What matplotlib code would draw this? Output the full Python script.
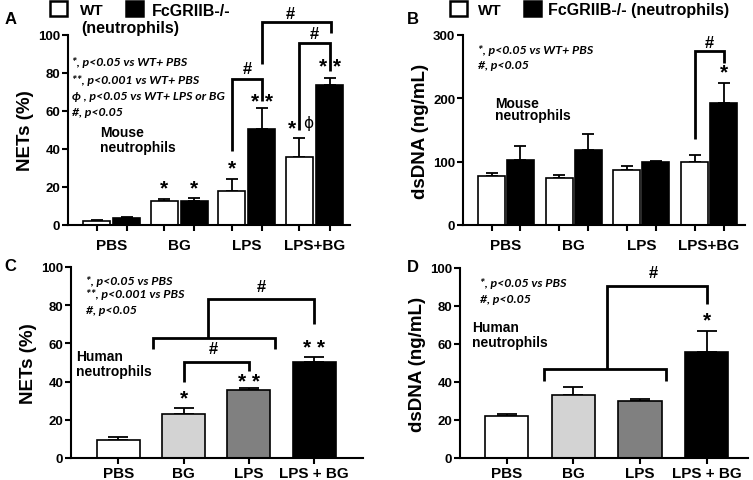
import matplotlib
matplotlib.use("Agg")
import matplotlib.pyplot as plt
from matplotlib.patches import Rectangle
import numpy as np

plt.rcParams['font.family'] = ['Liberation Sans', 'DejaVu Sans']
plt.rcParams['font.weight'] = 'bold'
plt.rcParams['axes.labelweight'] = 'bold'

#_______________________________________________________________________________
groups = ["PBS", "BG", "LPS", "LPS+BG"]
groups_h = ["PBS", "BG", "LPS", "LPS + BG"]

# A: mouse NETs (%)
a_wt = [2.1, 12.8, 18.0, 35.9]
a_wt_err = [0.6, 0.8, 6.0, 10.1]
a_ko = [3.8, 12.8, 50.4, 73.6]
a_ko_err = [0.5, 1.4, 11.4, 4.0]

# B: mouse dsDNA (ng/mL)
b_wt = [77.8, 74.0, 86.7, 100.0]
b_wt_err = [3.7, 5.0, 5.8, 10.0]
b_ko = [102.5, 118.0, 98.8, 192.0]
b_ko_err = [22.0, 25.5, 2.2, 33.0]

# C: human NETs (%)
c_val = [9.4, 23.0, 35.7, 50.5]
c_err = [1.8, 3.0, 0.8, 2.6]

# D: human dsDNA (ng/mL)
d_val = [22.2, 33.4, 30.1, 55.6]
d_err = [1.1, 3.9, 0.9, 11.4]

human_colors = ["white", "#d3d3d3", "#808080", "black"]
#_______________________________________________________________________________

W, H = 753, 481
fig = plt.figure(figsize=(W / 100, H / 100), dpi=100)


def axes_px(left, right, top, bottom):
    return fig.add_axes([left / W, 1 - bottom / H, (right - left) / W, (bottom - top) / H])


def px(x, y):
    return x / W, 1 - y / H


def style(ax):
    for s in ["top", "right"]:
        ax.spines[s].set_visible(False)
    for s in ["left", "bottom"]:
        ax.spines[s].set_linewidth(1.5)
    ax.tick_params(axis="y", labelsize=9.5, width=1.5, length=4, pad=1.5)
    ax.tick_params(axis="x", which="major", width=1.5, length=4)
    for t in ax.get_yticklabels():
        t.set_fontweight("bold")


def bracket(ax, x1, y1, x2, y2, ytop):
    ax.plot([x1, x1, x2, x2], [y1, ytop, ytop, y2], color="black", lw=2.0,
            clip_on=False, solid_capstyle="butt", solid_joinstyle="miter")


def star(ax, x, y, s, size=15):
    ax.text(x, y, s, ha="center", va="center", fontsize=size, clip_on=False)


def notes(ax, x, ys, lines):
    for y, t in zip(ys, lines):
        ax.text(x, y, t, ha="left", va="center", fontsize=8.9, style="italic",
                weight="bold", family=["Lato", "DejaVu Sans"])


def mouse_panel(ax, wt, wt_err, ko, ko_err, off, width):
    x = np.arange(len(groups))
    ax.bar(x - off, wt, width, color="white", edgecolor="black", lw=1.2, zorder=2)
    ax.bar(x + off, ko, width, color="black", edgecolor="black", lw=1.2, zorder=2)
    ax.errorbar(x - off, wt, yerr=[np.zeros(4), wt_err], fmt="none", ecolor="black",
                elinewidth=1.3, capsize=4, capthick=1.3, zorder=1)
    ax.errorbar(x + off, ko, yerr=[np.zeros(4), ko_err], fmt="none", ecolor="black",
                elinewidth=1.3, capsize=4, capthick=1.3, zorder=1)
    ax.set_xticks(np.concatenate([x - off, x + off]))
    ax.set_xticklabels([])
    ax.set_xticks(x, minor=True)
    ax.set_xticklabels(groups, minor=True, fontsize=11, fontweight="bold")
    ax.tick_params(axis="x", which="minor", length=0, pad=9)


def human_panel(ax, val, err, width):
    x = np.arange(len(groups_h))
    ax.bar(x, val, width, color=human_colors, edgecolor="black", lw=1.2, zorder=2)
    ax.errorbar(x, val, yerr=[np.zeros(4), err], fmt="none", ecolor="black",
                elinewidth=1.3, capsize=7, capthick=1.3, zorder=1)
    ax.set_xticks(x)
    ax.set_xticklabels(groups_h, fontsize=11, fontweight="bold")
    ax.tick_params(axis="x", length=3, pad=2)


# ---------------- A ----------------
axA = axes_px(68, 350, 36, 226)
mouse_panel(axA, a_wt, a_wt_err, a_ko, a_ko_err, 0.222, 0.40)
axA.set_xlim(-0.646, 3.525)
axA.set_ylim(0, 100)
axA.set_yticks([0, 20, 40, 60, 80, 100])
style(axA)
axA.set_ylabel("NETs (%)", fontsize=13.5, labelpad=3, fontweight="bold")
bracket(axA, 1.778, 39, 2.222, 65.3, 76.7)
bracket(axA, 2.778, 50, 3.222, 81, 96)
bracket(axA, 2.22, 84.6, 3.25, 101, 106.8)
star(axA, 2.0, 82.5, "#", 12)
star(axA, 3.0, 101.0, "#", 12)
star(axA, 2.64, 111.3, "#", 12)
star(axA, 0.778, 19.5, "*")
star(axA, 1.222, 19.5, "*")
star(axA, 1.778, 29.8, "*")
star(axA, 2.222, 65.0, "* *")
star(axA, 3.222, 83.4, "* *")
axA.text(2.67, 51.0, "*", ha="center", va="center", fontsize=15)
axA.text(2.90, 54.0, "ϕ", ha="center", va="center", fontsize=11, weight="normal",
         family=["DejaVu Sans"])
notes(axA, -0.59, [86.3, 76.7, 68.0, 59.7],
      ["*, p<0.05 vs WT+ PBS", "**, p<0.001 vs WT+ PBS",
       "ϕ , p<0.05 vs WT+ LPS or BG", "#, p<0.05"])
axA.text(-0.17, 48.7, "Mouse", fontsize=10, ha="left", va="center")
axA.text(-0.17, 40.8, "neutrophils", fontsize=10, ha="left", va="center")

# ---------------- B ----------------
axB = axes_px(463, 745, 36, 226)
mouse_panel(axB, b_wt, b_wt_err, b_ko, b_ko_err, 0.214, 0.40)
axB.set_xlim(-0.635, 3.53)
axB.set_ylim(0, 300)
axB.set_yticks([0, 100, 200, 300])
style(axB)
axB.set_ylabel("dsDNA (ng/mL)", fontsize=13.5, labelpad=3, fontweight="bold")
bracket(axB, 2.786, 135.6, 3.214, 256.4, 274.8)
star(axB, 3.0, 288, "#", 12)
star(axB, 3.214, 241, "*")
notes(axB, -0.42, [277, 254], ["*, p<0.05 vs WT+ PBS", "#, p<0.05"])
axB.text(-0.16, 193, "Mouse", fontsize=10, ha="left", va="center")
axB.text(-0.16, 173, "neutrophils", fontsize=10, ha="left", va="center")

# ---------------- C ----------------
axC = axes_px(71, 363, 268, 459)
human_panel(axC, c_val, c_err, 0.66)
axC.set_xlim(-0.724, 3.75)
axC.set_ylim(0, 100)
axC.set_yticks([0, 20, 40, 60, 80, 100])
style(axC)
axC.set_ylabel("NETs (%)", fontsize=13.5, labelpad=3, fontweight="bold")
bracket(axC, 1, 39.7, 2, 45.8, 50.2)
bracket(axC, 0.527, 57.2, 2.40, 57.2, 62.8)
bracket(axC, 1.37, 62.8, 3.0, 70.3, 83.4)
star(axC, 1.45, 57.5, "#", 12)
star(axC, 2.19, 90.0, "#", 12)
star(axC, 1, 31.5, "*")
star(axC, 2, 40.2, "* *")
star(axC, 3, 57.8, "* *")
notes(axC, -0.50, [92.8, 85.9, 78.0],
      ["*, p<0.05 vs PBS", "**, p<0.001 vs PBS", "#, p<0.05"])
axC.text(-0.64, 53.6, "Human", fontsize=10, ha="left", va="center")
axC.text(-0.64, 45.7, "neutrophils", fontsize=10, ha="left", va="center")

# ---------------- D ----------------
axD = axes_px(460, 748, 269, 459)
human_panel(axD, d_val, d_err, 0.65)
axD.set_xlim(-0.70, 3.62)
axD.set_ylim(0, 100)
axD.set_yticks([0, 20, 40, 60, 80, 100])
style(axD)
axD.set_ylabel("dsDNA (ng/mL)", fontsize=13.5, labelpad=3, fontweight="bold")
bracket(axD, 0.56, 40.7, 2.39, 40.7, 46.8)
bracket(axD, 1.51, 46.8, 3.0, 81.0, 90.7)
star(axD, 2.2, 97.5, "#", 12)
star(axD, 3.0, 72.8, "*")
notes(axD, -0.40, [92.5, 83.7], ["*, p<0.05 vs PBS", "#, p<0.05"])
axD.text(-0.52, 68.8, "Human", fontsize=10, ha="left", va="center")
axD.text(-0.52, 60.9, "neutrophils", fontsize=10, ha="left", va="center")

# ---------------- panel letters & legends ----------------
for letter, (x, y) in zip("ABCD", [(11, 19), (413, 19), (10, 267), (413, 268)]):
    fig.text(*px(x, y), letter, fontsize=12, ha="center", va="center")


def legend_box(x, y, filled):
    fig.add_artist(Rectangle(px(x, y + 15), 17 / W, 15 / H, transform=fig.transFigure,
                             facecolor="black" if filled else "white",
                             edgecolor="black", lw=1.8))


legend_box(50, 2, False)
fig.text(*px(80, 11), "WT", fontsize=11, ha="left", va="center")
legend_box(126, 2, True)
fig.text(*px(152, 11), "FcGRIIB-/-", fontsize=11.5, ha="left", va="center")
fig.text(*px(81, 28), "(neutrophils)", fontsize=11.5, ha="left", va="center")

legend_box(450, 2, False)
fig.text(*px(478, 11), "WT", fontsize=11, ha="left", va="center")
legend_box(524, 2, True)
fig.text(*px(548, 11), "FcGRIIB-/- (neutrophils)", fontsize=11.5, ha="left", va="center")

fig.savefig("out.png", dpi=100)
